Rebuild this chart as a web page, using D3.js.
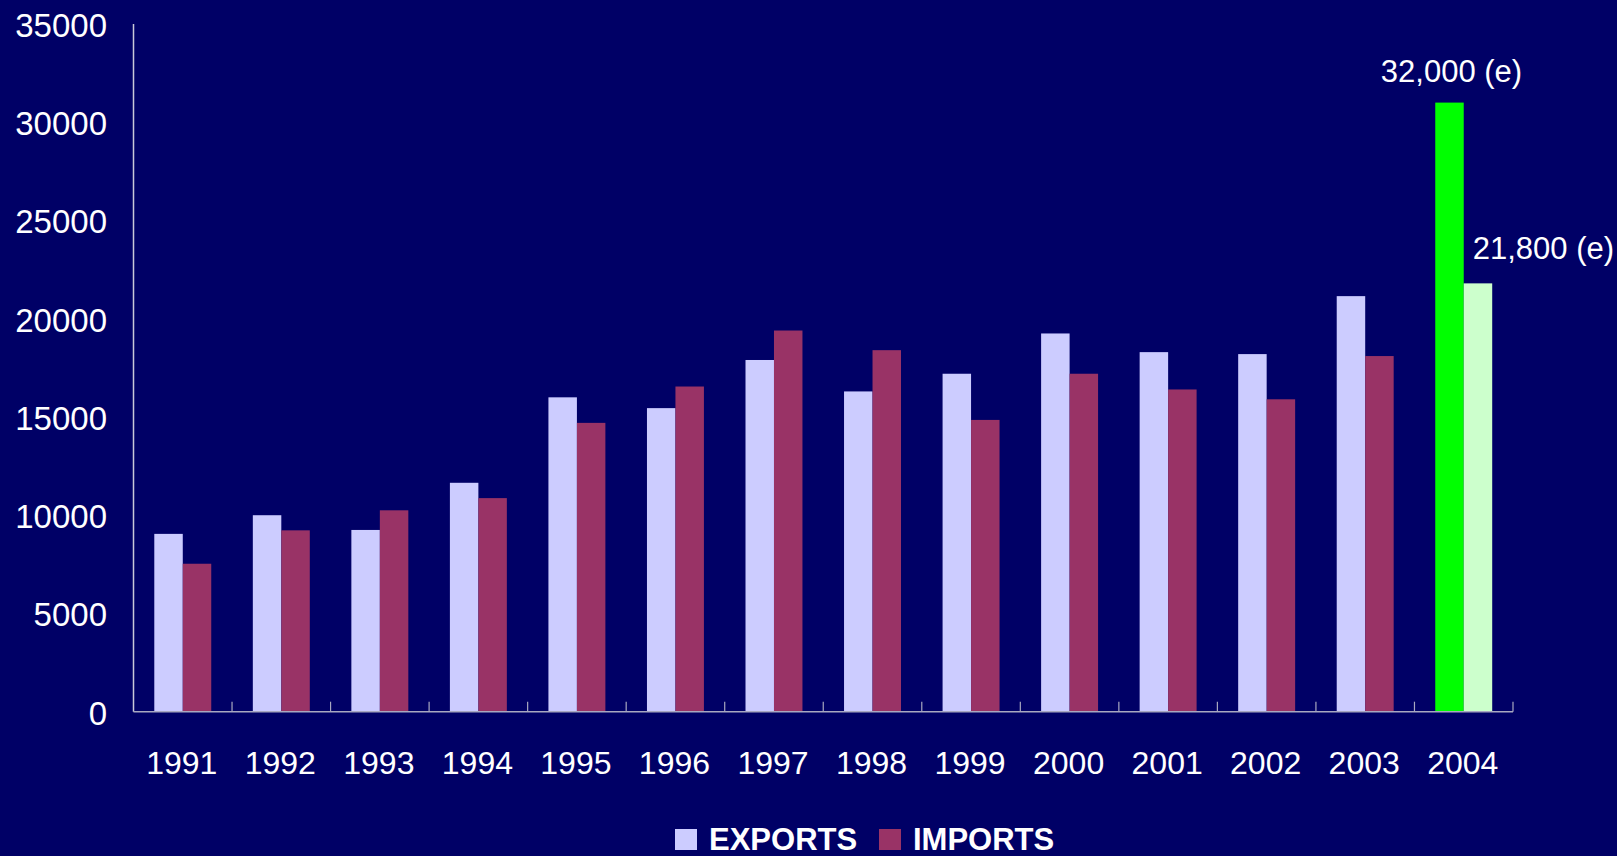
<!DOCTYPE html>
<html>
<head>
<meta charset="utf-8">
<script src="https://cdn.jsdelivr.net/npm/d3@7/dist/d3.min.js"></script>
<style>
  html, body { margin: 0; padding: 0; background: #000066; }
  svg { display: block; }
  text { font-family: "Liberation Sans", Arial, sans-serif; fill: #ffffff; }
</style>
</head>
<body>
<svg id="chart" width="1617" height="856"></svg>
<script>
// ---- data ----
const years = ["1991","1992","1993","1994","1995","1996","1997","1998","1999","2000","2001","2002","2003","2004"];
const exportsVals = [9050, 10000, 9250, 11650, 16000, 15450, 17900, 16300, 17200, 19250, 18300, 18200, 21150, 31000];
const importsVals = [7530, 9230, 10250, 10870, 14700, 16550, 19400, 18400, 14850, 17200, 16400, 15900, 18100, 21800];
const seriesNames = ["EXPORTS", "IMPORTS"];
const yTicks = [0, 5000, 10000, 15000, 20000, 25000, 30000, 35000];
const annotations = [
  { year: "2004", series: "EXPORTS", text: "32,000 (e)" },
  { year: "2004", series: "IMPORTS", text: "21,800 (e)" }
];

// ---- styles ----
const colors = { EXPORTS: "#ccccff", IMPORTS: "#993366" };
const estimateColors = { EXPORTS: "#00ff00", IMPORTS: "#ccffcc" };
const estimateYear = "2004";

const svg = d3.select("#chart");
const W = 1617, H = 856;
const m = { left: 133.5, right: W - 1513, top: 24, bottom: H - 711.7 };

const x0 = d3.scaleBand().domain(years).range([m.left, W - m.right]).paddingInner(0.422).paddingOuter(0.211);
const x1 = d3.scaleBand().domain(seriesNames).range([0, x0.bandwidth()]);
const y = d3.scaleLinear().domain([0, 35000]).range([H - m.bottom, m.top]);

const rows = years.map((yr, i) => ({ year: yr, EXPORTS: exportsVals[i], IMPORTS: importsVals[i] }));

// bars
const g = svg.append("g");
rows.forEach(r => {
  seriesNames.forEach(s => {
    g.append("rect")
      .attr("x", x0(r.year) + x1(s))
      .attr("width", x1.bandwidth())
      .attr("y", y(r[s]))
      .attr("height", y(0) - y(r[s]))
      .attr("fill", r.year === estimateYear ? estimateColors[s] : colors[s]);
  });
});

// axes
const axisColor = "#a8a8c0";
const step = x0.step();
const gap = step * x0.paddingInner();
svg.append("line")
  .attr("x1", m.left).attr("x2", m.left)
  .attr("y1", y(35000)).attr("y2", y(0))
  .attr("stroke", "#c8c8d8").attr("stroke-width", 1.5);
svg.append("line")
  .attr("x1", m.left).attr("x2", W - m.right)
  .attr("y1", y(0)).attr("y2", y(0))
  .attr("stroke", axisColor).attr("stroke-width", 1.5);
// category boundary ticks (pointing up)
years.forEach(yr => {
  const bx = x0(yr) + x0.bandwidth() + gap / 2;
  svg.append("line")
    .attr("x1", bx).attr("x2", bx)
    .attr("y1", y(0)).attr("y2", y(0) - 10)
    .attr("stroke", axisColor).attr("stroke-width", 1.2);
});

// y tick labels
svg.append("g").selectAll("text").data(yTicks).join("text")
  .attr("x", 107)
  .attr("y", d => y(d) + 13)
  .attr("text-anchor", "end")
  .attr("font-size", 33)
  .text(d => d);

// x tick labels
svg.append("g").selectAll("text").data(years).join("text")
  .attr("x", d => x0(d) + x0.bandwidth() / 2 - 1)
  .attr("y", y(0) + 62)
  .attr("text-anchor", "middle")
  .attr("font-size", 32)
  .text(d => d);

// annotations
const rowByYear = Object.fromEntries(rows.map(r => [r.year, r]));
annotations.forEach(a => {
  const r = rowByYear[a.year];
  const bx = x0(a.year) + x1(a.series);
  if (a.series === "EXPORTS") {
    svg.append("text")
      .attr("x", bx + x1.bandwidth() / 2 + 2)
      .attr("y", y(r[a.series]) - 21)
      .attr("text-anchor", "middle")
      .attr("font-size", 31)
      .text(a.text);
  } else {
    svg.append("text")
      .attr("x", bx + 9)
      .attr("y", y(r[a.series]) - 24)
      .attr("text-anchor", "start")
      .attr("font-size", 31)
      .text(a.text);
  }
});

// legend
const legend = svg.append("g");
const legendItems = [
  { name: "EXPORTS", x: 675 },
  { name: "IMPORTS", x: 879 }
];
legendItems.forEach(it => {
  legend.append("rect")
    .attr("x", it.x).attr("y", 829)
    .attr("width", 22).attr("height", 21)
    .attr("fill", colors[it.name]);
  legend.append("text")
    .attr("x", it.x + 34).attr("y", 850)
    .attr("font-size", 31).attr("font-weight", "bold")
    .text(it.name);
});
</script>
</body>
</html>
